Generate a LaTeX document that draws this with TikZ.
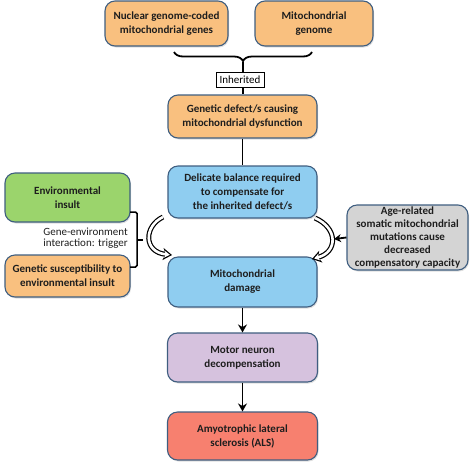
\documentclass[tikz,border=0pt]{standalone}
\usepackage{fontspec}
\setmainfont{Carlito}
\usetikzlibrary{arrows.meta,shadows,decorations.pathreplacing}

\definecolor{edgeblue}{HTML}{3F5E80}
\definecolor{orangefill}{HTML}{F9C07F}
\definecolor{greenfill}{HTML}{9BD46C}
\definecolor{bluefill}{HTML}{8FCDF0}
\definecolor{grayfill}{HTML}{D4D4D4}
\definecolor{lilacfill}{HTML}{D6C2DE}
\definecolor{redfill}{HTML}{F7806F}
\definecolor{inkgray}{HTML}{1E1E1E}

\tikzset{
	box/.style={draw=edgeblue, line width=1.1pt, rounded corners=10pt, align=center, text=inkgray,
		font=\bfseries\fontsize{11}{14}\selectfont, inner sep=1pt,
		drop shadow={opacity=.25, shadow xshift=1pt, shadow yshift=-1.5pt}},
	link/.style={line width=1.8pt},
	hollowout/.style={line width=5pt, -{Stealth[length=9pt, width=12pt, inset=2.5pt]}},
	hollowin/.style={line width=2.6pt, white, shorten >=2.2pt, -{Stealth[length=5.5pt, width=7pt, inset=1.5pt]}}
}

\begin{document}
\begin{tikzpicture}[x=1pt, y=-1pt]
	\useasboundingbox (0,0) rectangle (473,464);

	\node[box, fill=orangefill, minimum width=123pt, minimum height=45pt] (nuc) at (166.5,23.5) {Nuclear genome-coded\\mitochondrial genes};
	\node[box, fill=orangefill, minimum width=118pt, minimum height=45pt] (mtg) at (314,23.5) {Mitochondrial\\genome};

	\draw[link, decorate, decoration={brace, amplitude=9pt, mirror}] (174,52) -- (312,52);
	\coordinate (tip) at (243,62);
	\node[draw, line width=.7pt, inner sep=2pt, minimum width=48pt, minimum height=15pt, font=\fontsize{11}{12}\selectfont] (inh) at (240,79.5) {Inherited};
	\draw[link] (tip) -- (tip |- inh.north);

	\node[box, fill=orangefill, minimum width=149pt, minimum height=43pt] (gen) at (242.5,116.5) {Genetic defect/s causing\\mitochondrial dysfunction};
	\draw[link] (tip |- inh.south) -- (tip |- gen.north);

	\node[box, fill=bluefill, minimum width=149pt, minimum height=52pt] (bal) at (242.5,192) {Delicate balance required\\to compensate for\\the inherited defect/s};
	\draw[link] (gen.south) -- (bal.north);

	\node[box, fill=bluefill, minimum width=149pt, minimum height=50pt] (dmg) at (242.5,282) {Mitochondrial\\damage};
	\node[box, fill=lilacfill, minimum width=150pt, minimum height=49pt] (mot) at (242.5,357.5) {Motor neuron\\decompensation};
	\node[box, fill=redfill, minimum width=150pt, minimum height=48pt] (als) at (242.5,436) {Amyotrophic lateral\\sclerosis (ALS)};
	\draw[link, -{Stealth[length=8pt, width=9pt]}] (dmg.south) -- (mot.north);
	\draw[link, -{Stealth[length=8pt, width=9pt]}] (mot.south) -- (als.north);

	\node[box, fill=greenfill, minimum width=125pt, minimum height=49pt] (env) at (67.5,197.5) {Environmental\\insult};
	\node[box, fill=orangefill, minimum width=125pt, minimum height=42pt] (sus) at (67.5,276) {Genetic susceptibility to\\environmental insult};
	\node[anchor=east, align=center, inner sep=1pt, text=inkgray, font=\fontsize{11}{11}\selectfont] (gei) at (129,238.5) {Gene-environment\\interaction: trigger};
	\draw[line width=1.5pt, rounded corners=1.5pt] (130,212) -- (137,212) -- (137,267) -- (130,267);
	\draw[line width=1.5pt] (137,240) -- (143,240);

	\node[box, fill=grayfill, minimum width=121pt, minimum height=65pt, font=\bfseries\fontsize{11}{13}\selectfont] (age) at (407.5,237.5) {Age-related\\somatic mitochondrial\\mutations cause\\decreased\\compensatory capacity};

	\coordinate (la) at (163,217);
	\coordinate (lb) at (172,255);
	\coordinate (ra) at (315,218);
	\coordinate (rb) at (312,259);
	\coordinate (rmid) at (334,239);
	\draw[hollowout] (la) .. controls (144,226) and (143,252) .. (lb);
	\draw[hollowin] (la) .. controls (144,226) and (143,252) .. (lb);
	\draw[hollowout] (ra) .. controls (338,228) and (338,252) .. (rb);
	\draw[hollowin] (ra) .. controls (338,228) and (338,252) .. (rb);
	\draw[link, -{Stealth[length=7pt, width=8pt]}] (age.west) -- (rmid);
\end{tikzpicture}
\end{document}
